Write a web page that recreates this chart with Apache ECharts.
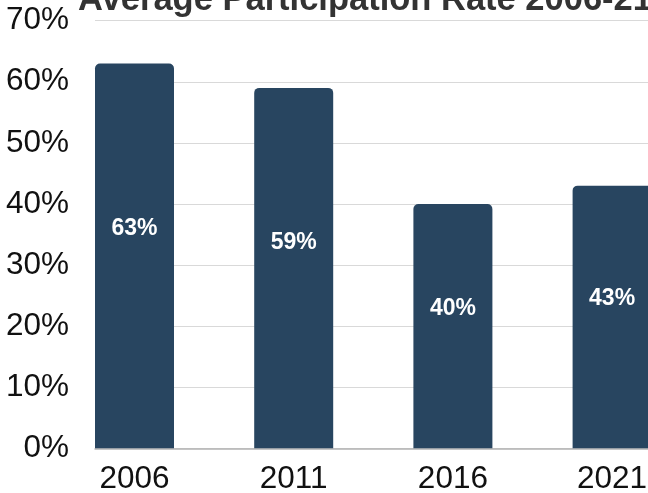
<!DOCTYPE html>
<html>
<head>
<meta charset="utf-8">
<script src="https://cdn.jsdelivr.net/npm/echarts@6/dist/echarts.min.js"></script>
<style>
html,body{margin:0;padding:0;background:#fff;}
#chart{width:648px;height:493px;}
</style>
</head>
<body>
<div id="chart"></div>
<script>
var titleText = 'Average Participation Rate 2006-21';
var years = ['2006', '2011', '2016', '2021'];
var rates = [63, 59, 40, 43];
var yMin = 0, yMax = 70, yStep = 10;

var FONT = '"Liberation Sans", Arial, sans-serif';
var chart = echarts.init(document.getElementById('chart'), null, {renderer: 'canvas'});
chart.setOption({
  animation: false,
  backgroundColor: '#ffffff',
  title: {
    text: titleText,
    left: 78,
    top: -17,
    padding: 0,
    textStyle: {fontFamily: FONT, fontSize: 34.5, fontWeight: 'bold', color: '#333333'}
  },
  grid: [
    {left: 95, width: 620, top: 20.7, bottom: 44.7, outerBoundsMode: 'none', containLabel: false},
    {left: 54.9, width: 636.8, top: 20.7, bottom: 44.7, outerBoundsMode: 'none', containLabel: false}
  ],
  xAxis: [
    {
      gridIndex: 0, type: 'value', min: 0, max: 1,
      axisLine: {show: true, lineStyle: {color: '#b3b3b3', width: 1.5}},
      axisTick: {show: false}, axisLabel: {show: false}, splitLine: {show: false}
    },
    {
      gridIndex: 1, type: 'category', data: years,
      axisLine: {show: false}, axisTick: {show: false},
      axisLabel: {fontFamily: FONT, fontSize: 31.5, color: '#111111', margin: 15}
    }
  ],
  yAxis: [
    {
      gridIndex: 0, type: 'value', min: yMin, max: yMax, interval: yStep,
      axisLine: {show: false}, axisTick: {show: false},
      axisLabel: {fontFamily: FONT, fontSize: 31.5, color: '#111111', margin: 26, formatter: '{value}%'},
      splitLine: {lineStyle: {color: '#d9d9d9', width: 1}}
    },
    {
      gridIndex: 1, type: 'value', min: yMin, max: yMax, interval: yStep,
      show: false
    }
  ],
  series: [{
    type: 'bar',
    xAxisIndex: 1,
    yAxisIndex: 1,
    data: rates,
    barWidth: 79,
    z: 3,
    itemStyle: {color: '#284560', borderRadius: [5, 5, 0, 0]},
    label: {
      show: true,
      position: ['50%', '43%'],
      align: 'center',
      verticalAlign: 'middle',
      formatter: '{c}%',
      fontFamily: FONT,
      fontSize: 23,
      fontWeight: 'bold',
      color: '#ffffff'
    }
  }]
});
</script>
</body>
</html>
